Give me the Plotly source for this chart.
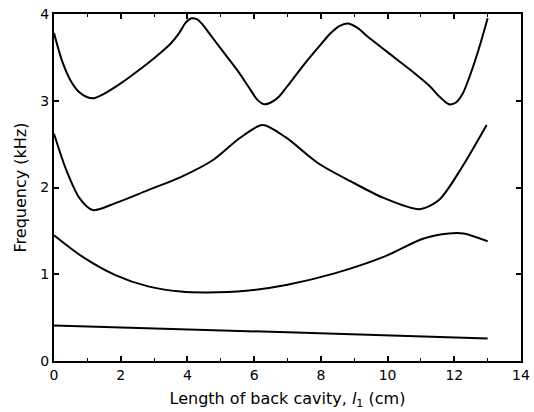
import plotly.graph_objects as go

# Lowest mode (nearly straight line)
x_mode1 = [0.0, 7.0, 13.0]
y_mode1 = [0.41, 0.33, 0.26]

# Second mode (U-shaped)
x_mode2 = [0.0, 0.86, 1.84, 2.82, 3.80, 4.59, 5.76, 7.0, 8.41, 9.88, 11.06, 11.84, 12.28, 13.0]
y_mode2 = [1.45, 1.20, 0.99, 0.86, 0.80, 0.79, 0.81, 0.88, 1.01, 1.20, 1.41, 1.47, 1.47, 1.38]

# Third mode
x_mode3 = [0.0, 0.37, 0.76, 1.16, 1.84, 2.82, 3.80, 4.78, 5.57, 6.25, 6.94, 7.92, 8.90, 9.88, 10.96, 11.55, 12.24, 12.97]
y_mode3 = [2.62, 2.20, 1.88, 1.74, 1.82, 1.97, 2.12, 2.32, 2.57, 2.72, 2.58, 2.28, 2.07, 1.88, 1.75, 1.86, 2.24, 2.72]

# Fourth mode
x_mode4 = [0.0, 0.25, 0.5, 0.75, 1.0, 1.2, 1.5, 2.0, 2.5, 3.0, 3.5, 3.75, 3.95, 4.12, 4.28, 4.45, 4.65, 5.0, 5.5, 5.9, 6.1, 6.3,
           6.5, 6.75, 7.0, 7.5, 8.0, 8.3, 8.55, 8.8, 9.1, 9.4, 9.8, 10.3, 10.8, 11.26, 11.55, 11.84, 12.05, 12.25,
           12.45, 12.63, 12.8, 13.0]
y_mode4 = [3.78, 3.45, 3.23, 3.10, 3.04, 3.03, 3.08, 3.20, 3.34, 3.49, 3.66, 3.78, 3.90, 3.95, 3.94, 3.88, 3.78, 3.60, 3.35, 3.12, 3.01, 2.96,
           2.98, 3.05, 3.17, 3.42, 3.65, 3.78, 3.86, 3.89, 3.84, 3.74, 3.62, 3.47, 3.32, 3.17, 3.05, 2.96, 2.98, 3.08,
           3.27, 3.47, 3.68, 3.95]

x_ticks = [0, 2, 4, 6, 8, 10, 12, 14]
y_ticks = [0, 1, 2, 3, 4]

fig = go.Figure()
for xs, ys in [(x_mode1, y_mode1), (x_mode2, y_mode2), (x_mode3, y_mode3), (x_mode4, y_mode4)]:
    fig.add_trace(go.Scatter(x=xs, y=ys, mode="lines",
                             line=dict(color="black", width=2, shape="spline", smoothing=0.8),
                             showlegend=False, hoverinfo="skip"))

font_family = "DejaVu Sans"
fig.update_layout(
    width=534, height=412,
    margin=dict(l=54, r=4, t=14, b=51),
    paper_bgcolor="white", plot_bgcolor="white",
    font=dict(family=font_family, color="black", size=14),
)
fig.update_xaxes(
    range=[0, 14], tickvals=x_ticks, ticktext=[str(v) for v in x_ticks],
    ticks="inside", ticklen=5, tickwidth=1.5, tickcolor="black",
    minor=dict(dtick=1, ticks="inside", ticklen=3, tickcolor="black", tickwidth=1.2),
    showline=True, linecolor="black", linewidth=2, mirror="ticks",
    showgrid=False, zeroline=False, ticklabeloverflow="allow",
    title=dict(text="Length of back cavity, <i>l</i><sub>1</sub> (cm)", font=dict(size=16), standoff=11),
    tickfont=dict(size=14),
)
fig.update_yaxes(
    range=[0, 4], tickvals=y_ticks, ticktext=[str(v) for v in y_ticks],
    ticks="inside", ticklen=5, tickwidth=1.5, tickcolor="black",
    showline=True, linecolor="black", linewidth=2, mirror="ticks",
    showgrid=False, zeroline=False,
    title=dict(text="Frequency (kHz)", font=dict(size=16), standoff=10),
    tickfont=dict(size=14),
)

fig.write_html("out.html")
